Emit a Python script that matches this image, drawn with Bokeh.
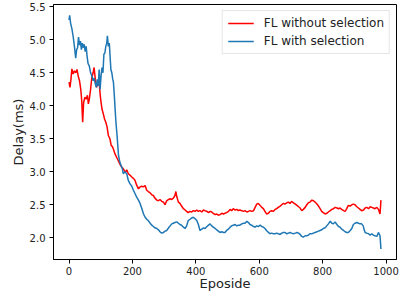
from bokeh.plotting import figure
from bokeh.models import Range1d, FixedTicker, Legend, LegendItem, CustomJSTickFormatter
from bokeh.embed import file_html
from bokeh.resources import INLINE

red_x = [0, 3, 6, 9, 13, 17, 21, 25, 29, 33, 37, 40, 43, 46, 50, 54, 58, 61, 64, 68, 72, 76, 79, 83, 87, 91, 95, 98,
         101, 104, 108, 112, 116, 120, 124, 129, 133, 137, 141, 145, 150, 155, 160, 166, 171, 177, 182, 187, 192, 198,
         203, 208, 213, 219, 224, 229, 234, 240, 245, 250, 256, 261, 266, 271, 277, 282, 287, 293, 298, 303, 308, 314,
         319, 324, 329, 334, 337, 340, 345, 350, 355, 361, 366, 371, 376, 381, 387, 392, 397, 403, 408, 413, 419, 424,
         429, 435, 440, 445, 450, 455, 461, 466, 471, 476, 482, 487, 492, 497, 503, 508, 513, 518, 524, 529, 534, 539,
         545, 550, 555, 561, 566, 571, 576, 582, 587, 592, 597, 603, 608, 613, 618, 623, 629, 634, 639, 645, 650, 655,
         660, 666, 671, 676, 681, 687, 692, 697, 702, 708, 714, 719, 724, 729, 734, 739, 745, 750, 755, 760, 766, 771,
         776, 782, 787, 792, 797, 802, 808, 813, 818, 824, 829, 834, 840, 845, 850, 855, 860, 866, 871, 876, 881, 887,
         892, 897, 902, 908, 913, 918, 923, 929, 934, 939, 945, 950, 955, 960, 965, 971, 976, 981, 984]
red_y = [4.36, 4.28, 4.40, 4.56, 4.48, 4.53, 4.50, 4.55, 4.45, 4.38, 4.25, 4.08, 3.75, 4.05, 4.13, 4.10, 4.16, 4.03,
         4.10, 4.25, 4.43, 4.50, 4.58, 4.40, 4.28, 4.34, 4.36, 4.18, 4.05, 3.95, 3.88, 3.80, 3.75, 3.68, 3.55, 3.50,
         3.40, 3.38, 3.33, 3.27, 3.22, 3.17, 3.12, 3.07, 3.05, 2.99, 3.03, 2.97, 2.95, 2.92, 2.90, 2.87, 2.80, 2.74,
         2.77, 2.78, 2.77, 2.79, 2.72, 2.70, 2.68, 2.65, 2.64, 2.60, 2.57, 2.56, 2.58, 2.55, 2.54, 2.50, 2.56, 2.58,
         2.59, 2.58, 2.60, 2.64, 2.70, 2.62, 2.54, 2.52, 2.48, 2.44, 2.42, 2.40, 2.38, 2.40, 2.39, 2.41, 2.40, 2.42,
         2.40, 2.41, 2.39, 2.42, 2.41, 2.40, 2.38, 2.40, 2.39, 2.37, 2.35, 2.36, 2.34, 2.35, 2.37, 2.36, 2.37, 2.38,
         2.40, 2.43, 2.41, 2.44, 2.42, 2.43, 2.41, 2.42, 2.41, 2.40, 2.41, 2.39, 2.40, 2.41, 2.40, 2.41, 2.46, 2.51,
         2.52, 2.49, 2.46, 2.44, 2.40, 2.36, 2.37, 2.40, 2.41, 2.40, 2.43, 2.44, 2.46, 2.48, 2.50, 2.52, 2.51, 2.53,
         2.54, 2.52, 2.55, 2.53, 2.51, 2.49, 2.47, 2.45, 2.41, 2.43, 2.46, 2.50, 2.53, 2.54, 2.57, 2.56, 2.54, 2.51,
         2.48, 2.44, 2.40, 2.38, 2.36, 2.37, 2.39, 2.41, 2.43, 2.44, 2.46, 2.45, 2.44, 2.45, 2.43, 2.41, 2.40, 2.44,
         2.49, 2.48, 2.50, 2.51, 2.50, 2.47, 2.45, 2.43, 2.41, 2.42, 2.45, 2.46, 2.44, 2.47, 2.46, 2.45, 2.44, 2.46,
         2.43, 2.36, 2.57]

blue_x = [0, 2, 5, 9, 13, 17, 21, 24, 27, 30, 33, 36, 39, 42, 45, 48, 51, 54, 57, 60, 64, 68, 72, 76, 79, 82, 86, 89,
          92, 95, 98, 101, 104, 107, 110, 113, 116, 119, 121, 124, 127, 129, 132, 135, 138, 140, 143, 145, 148, 152,
          156, 160, 164, 168, 171, 176, 182, 187, 192, 198, 203, 208, 213, 219, 224, 229, 235, 240, 245, 250, 256, 261,
          266, 271, 277, 282, 287, 292, 298, 303, 308, 314, 319, 324, 329, 334, 340, 345, 350, 355, 361, 366, 371, 376,
          382, 387, 392, 397, 403, 408, 413, 419, 424, 429, 435, 440, 445, 450, 455, 461, 466, 471, 476, 482, 487, 492,
          497, 503, 508, 513, 518, 524, 529, 534, 539, 545, 550, 555, 561, 566, 571, 576, 582, 587, 592, 597, 603, 608,
          613, 618, 623, 629, 634, 639, 645, 650, 655, 660, 666, 671, 676, 681, 687, 692, 697, 702, 708, 714, 719, 724,
          729, 734, 739, 745, 750, 755, 760, 766, 771, 776, 782, 787, 792, 797, 802, 808, 813, 818, 824, 829, 834, 839,
          845, 850, 855, 860, 866, 871, 876, 881, 887, 892, 897, 902, 908, 913, 918, 923, 928, 931, 934, 939, 945, 950,
          955, 960, 965, 971, 976, 981, 984]
blue_y = [5.30, 5.37, 5.25, 5.17, 5.05, 4.90, 4.72, 4.85, 4.88, 5.04, 4.92, 4.98, 4.85, 4.95, 4.88, 4.93, 4.82, 4.90,
          4.75, 4.64, 4.60, 4.50, 4.45, 4.38, 4.42, 4.35, 4.28, 4.40, 4.30, 4.55, 4.25, 4.45, 4.58, 4.50, 4.78, 4.80,
          4.90, 4.95, 5.06, 4.90, 4.95, 4.79, 4.55, 4.50, 4.40, 4.36, 4.15, 3.98, 3.75, 3.52, 3.25, 3.15, 3.10, 3.05,
          2.97, 3.00, 2.97, 2.87, 2.82, 2.78, 2.72, 2.67, 2.62, 2.57, 2.52, 2.45, 2.36, 2.31, 2.28, 2.26, 2.22, 2.19,
          2.17, 2.15, 2.14, 2.12, 2.09, 2.07, 2.08, 2.10, 2.11, 2.15, 2.18, 2.21, 2.22, 2.23, 2.24, 2.22, 2.20, 2.19,
          2.16, 2.14, 2.18, 2.26, 2.28, 2.30, 2.31, 2.29, 2.26, 2.20, 2.11, 2.13, 2.15, 2.14, 2.17, 2.19, 2.21, 2.18,
          2.16, 2.14, 2.12, 2.10, 2.08, 2.09, 2.08, 2.08, 2.11, 2.13, 2.16, 2.18, 2.19, 2.20, 2.18, 2.19, 2.19, 2.21,
          2.22, 2.22, 2.25, 2.23, 2.20, 2.19, 2.17, 2.16, 2.18, 2.17, 2.19, 2.17, 2.16, 2.14, 2.11, 2.08, 2.06, 2.07,
          2.06, 2.06, 2.07, 2.06, 2.05, 2.07, 2.08, 2.08, 2.06, 2.07, 2.08, 2.07, 2.06, 2.07, 2.08, 2.07, 2.05, 2.02,
          2.01, 2.03, 2.03, 2.04, 2.06, 2.06, 2.07, 2.08, 2.09, 2.10, 2.11, 2.12, 2.14, 2.15, 2.18, 2.21, 2.25, 2.22,
          2.21, 2.24, 2.20, 2.17, 2.16, 2.13, 2.11, 2.09, 2.08, 2.08, 2.11, 2.14, 2.20, 2.22, 2.23, 2.22, 2.21, 2.21,
          2.18, 2.12, 2.08, 2.07, 2.06, 2.04, 2.06, 2.04, 2.03, 2.02, 2.08, 2.03, 1.83]

x_ticks = [0, 200, 400, 600, 800, 1000]
y_ticks = [2.0, 2.5, 3.0, 3.5, 4.0, 4.5, 5.0, 5.5]
series_names = ["FL without selection", "FL with selection"]

FONT = "DejaVu Sans"

p = figure(frame_width=343, frame_height=255, output_backend="svg", toolbar_location=None,
           x_range=Range1d(-49, 1033), y_range=Range1d(1.67, 5.535),
           min_border_left=53, min_border_right=5, min_border_top=4, min_border_bottom=37)
p.grid.visible = False
p.outline_line_color = "black"
p.outline_line_width = 1
p.background_fill_color = "white"
p.border_fill_color = "white"

r_red = p.line(red_x, red_y, line_color="#ff0000", line_width=1.5)
r_blue = p.line(blue_x, blue_y, line_color="#1f77b4", line_width=1.5)

for ax in (p.xaxis[0], p.yaxis[0]):
    ax.minor_tick_line_color = None
    ax.major_tick_in = 0
    ax.major_tick_out = 4
    ax.major_tick_line_color = "black"
    ax.axis_line_color = "black"
    ax.major_label_text_font = FONT
    ax.major_label_text_font_size = "10px"
    ax.major_label_text_color = "#222222"
    ax.axis_label_text_font = FONT
    ax.axis_label_text_font_size = "13px"
    ax.axis_label_text_font_style = "normal"
    ax.axis_label_text_color = "#222222"

p.xaxis.ticker = FixedTicker(ticks=x_ticks)
p.yaxis.ticker = FixedTicker(ticks=y_ticks)
p.yaxis.formatter = CustomJSTickFormatter(code="return tick.toFixed(1);")
p.xaxis.axis_label = "Eposide"
p.yaxis.axis_label = "Delay(ms)"
p.xaxis.major_label_standoff = 3
p.yaxis.major_label_standoff = 4
p.xaxis.axis_label_standoff = -2
p.yaxis.axis_label_standoff = 1

legend = Legend(items=[LegendItem(label=series_names[0], renderers=[r_red]),
                       LegendItem(label=series_names[1], renderers=[r_blue])],
                location="top_right")
legend.label_text_font = FONT
legend.label_text_font_size = "12px"
legend.label_text_color = "#222222"
legend.glyph_width = 26
legend.glyph_height = 14
legend.label_standoff = 10
legend.spacing = 4
legend.padding = 5
legend.margin = 6
legend.border_line_color = "#cccccc"
legend.border_line_width = 1
legend.background_fill_alpha = 0.8
p.add_layout(legend)

open("out.html", "w").write(file_html(p, INLINE))
